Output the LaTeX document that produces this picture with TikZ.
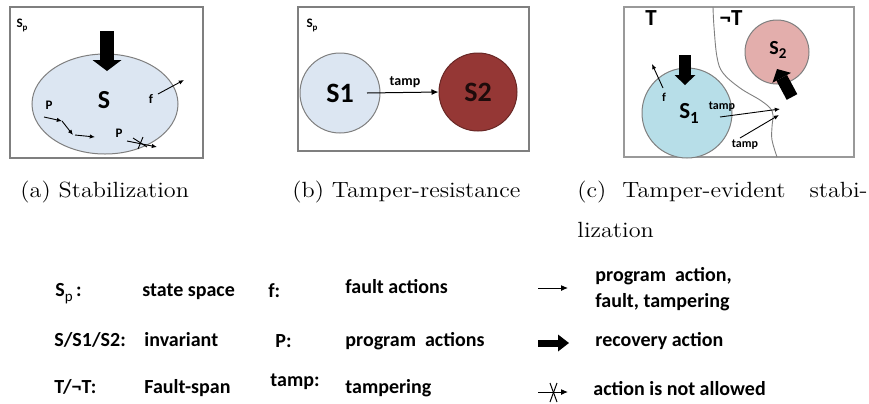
\documentclass[tikz,border=0pt]{standalone}
\usepackage{fontspec}
\newfontfamily\carl{Carlito}
\usetikzlibrary{arrows.meta,shapes.geometric}

\definecolor{setblue}{HTML}{DCE6F2}
\definecolor{setcyan}{HTML}{B7DEE8}
\definecolor{setred}{HTML}{953735}
\definecolor{setpink}{HTML}{E3AEAC}
\definecolor{framegray}{HTML}{7F7F7F}

\begin{document}
\begin{tikzpicture}[x=0.5pt,y=-0.5pt,
  panelbox/.style={draw=framegray, line width=0.7pt},
  setline/.style={draw=framegray, line width=0.5pt},
  sf/.style={font=\carl\bfseries\fontsize{#1}{#1}\selectfont, inner sep=0pt},
  leg/.style={sf=10, anchor=base west},
  captxt/.style={font=\fontsize{11}{13}\selectfont, xscale=1.1, inner sep=0pt, anchor=base west},
  act/.style={-{Latex[length=3.5pt,width=3pt]}, line width=0.5pt},
  tinyact/.style={-{Latex[length=2.6pt,width=2.2pt]}, line width=0.45pt},
  recov/.style n args={3}{line width=#1,
    -{Triangle[width=#2,length=#3,line width=0pt]}},
]
\useasboundingbox (0,0) rectangle (869,403);

% ---------------- (a) stabilization ----------------
\draw[panelbox] (10,7) rectangle (203,158);
\node[sf=6.5] (spa) at (22,25) {S\raisebox{-1.5pt}{\fontsize{4.5}{4.5}\selectfont p}};
\node[setline, fill=setblue, ellipse, minimum width=73pt, minimum height=50pt,
      inner sep=0pt] (S) at (105,104) {};
\node[sf=13] (Slbl) at (104,100) {S};
\coordinate (ra-tail) at (107,31);
\coordinate (ra-tip) at (107,71);
\draw[recov={7pt}{14.5pt}{5.5pt}] (ra-tail) -- (ra-tip);
% fault action leaving the invariant
\node[sf=6.5] (fa) at (151,99) {f};
\coordinate (fa1) at (158,94);
\coordinate (fa2) at (184,80);
\draw[tinyact] (fa1) -- (fa2);
% program actions inside the invariant
\node[sf=6.5] (pa) at (49,105) {P};
\coordinate (p1) at (44,117);
\coordinate (p2) at (62,121);
\coordinate (p3) at (73,135);
\coordinate (p3b) at (75,135);
\coordinate (p4) at (95,137);
\draw[tinyact] (p1) -- (p2);
\draw[tinyact] (p2) -- (p3);
\draw[tinyact] (p3b) -- (p4);
% program action that may not leave the invariant
\node[sf=6.5] (pb) at (119,133) {P};
\coordinate (q1) at (127,141);
\coordinate (q2) at (157,147);
\draw[tinyact] (q1) -- (q2);
\draw[line width=0.45pt] (133,138) -- (147,147);
\draw[line width=0.45pt] (143,137) -- (138,149);

% ---------------- (b) tamper-resistance ----------------
\draw[panelbox] (298,7) rectangle (529,151);
\node[sf=6.5] (spb) at (312,25) {S\raisebox{-1.5pt}{\fontsize{4.5}{4.5}\selectfont p}};
\node[setline, fill=setblue, circle, minimum size=40pt, inner sep=0pt,
      sf=14] (S1b) at (340,93) {S1};
\node[draw=setred!70!black, line width=0.5pt, fill=setred, circle,
      minimum size=39pt, inner sep=0pt, sf=14, text=black!80!setred] (S2b) at (478,92) {S2};
\coordinate (tb) at (367,93);
\draw[act] (tb) -- (S2b.west);
\node[sf=7] (tampb) at (405,82) {tamp};

% ---------------- (c) tamper-evident stabilization ----------------
\draw[panelbox, draw=framegray!80] (624,7) rectangle (854,157);
\draw[setline, line width=0.45pt] plot[smooth, tension=0.6] coordinates
  {(713,7) (714,27) (717,57) (723,73) (740,88) (760,100) (770,108)
   (773,115) (772,127) (772,140) (777,157)};
\node[sf=11.5] (T) at (651,18) {T};
\node[sf=11.5] (nT) at (731,18) {¬T};
\node[setline, fill=setpink, circle, minimum size=32pt, inner sep=0pt] (S2c) at (777,52) {};
\node[sf=10] (S2clbl) at (778,50) {S\raisebox{-2pt}{\fontsize{7.5}{7.5}\selectfont 2}};
\node[setline, fill=setcyan, circle, minimum size=45pt, inner sep=0pt] (S1c) at (687,113) {};
\node[sf=11.5] (S1clbl) at (689,113) {S\raisebox{-2.5pt}{\fontsize{8.5}{8.5}\selectfont 1}};
\coordinate (rc1-tail) at (685,55);
\coordinate (rc1-tip) at (685,85);
\draw[recov={6pt}{10.5pt}{5pt}] (rc1-tail) -- (rc1-tip);
\coordinate (rc2-tail) at (792,97);
\coordinate (rc2-tip) at (777,69);
\draw[recov={6pt}{10.5pt}{5pt}] (rc2-tail) -- (rc2-tip);
\node[sf=6] (fc) at (664,97) {f};
\coordinate (fc1) at (663,88);
\coordinate (fc2) at (652,64);
\draw[tinyact] (fc1) -- (fc2);
\coordinate (t1a) at (720,117);
\coordinate (t1b) at (780,109);
\draw[tinyact] (t1a) -- (t1b);
\node[sf=6] (tampc1) at (722,107) {tamp};
\coordinate (t2a) at (740,138);
\coordinate (t2b) at (779,115);
\draw[tinyact] (t2a) -- (t2b);
\node[sf=6] (tampc2) at (745,145) {tamp};

% ---------------- captions ----------------
\node[captxt] (capa) at (20,197) {(a) Stabilization};
\node[captxt] (capb) at (292,197) {(b) Tamper-resistance};
\node[captxt] (capc1) at (577,197) {(c)};
\node[captxt] (capc2) at (622,197) {Tamper-evident};
\node[captxt, anchor=base east] (capc3) at (868,197) {stabi-};
\node[captxt] (capc4) at (577,237) {lization};

% ---------------- legend ----------------
\node[leg] (lsp) at (55,296) {S\raisebox{-2.5pt}{\fontsize{7.5}{7.5}\selectfont\mdseries p}\,:};
\node[leg] (lss) at (142,296) {state space};
\node[leg] (lf) at (268,297) {f:};
\node[leg] (lfa) at (345,293) {fault actions};
\node[leg] (linv) at (54,346) {S/S1/S2:};
\node[leg] (linvt) at (144,346) {invariant};
\node[leg] (lp) at (275,347) {P:};
\node[leg] (lpa) at (345,346) {program\ \ actions};
\node[leg] (lt) at (54,393) {T/¬T:};
\node[leg] (lfs) at (144,393) {Fault-span};
\node[leg] (ltp) at (270,386) {tamp:};
\node[leg] (ltpg) at (345,393) {tampering};

\coordinate (la1) at (538,288);
\coordinate (la2) at (568,288);
\draw[act] (la1) -- (la2);
\coordinate (lb1) at (538,343);
\coordinate (lb2) at (569,343);
\draw[recov={3.5pt}{8.5pt}{5.5pt}] (lb1) -- (lb2);
\coordinate (lc1) at (538,392);
\coordinate (lc2) at (568,392);
\draw[act] (lc1) -- (lc2);
\draw[line width=0.5pt] (550,383) -- (557,402);
\draw[line width=0.5pt] (557,383) -- (550,402);

\node[leg] (lr1) at (595,281) {program\ \ action,};
\node[leg] (lr2) at (595,307) {fault, tampering};
\node[leg] (lr3) at (595,346) {recovery action};
\node[leg] (lr4) at (593,395) {action is not allowed};
\end{tikzpicture}
\end{document}
